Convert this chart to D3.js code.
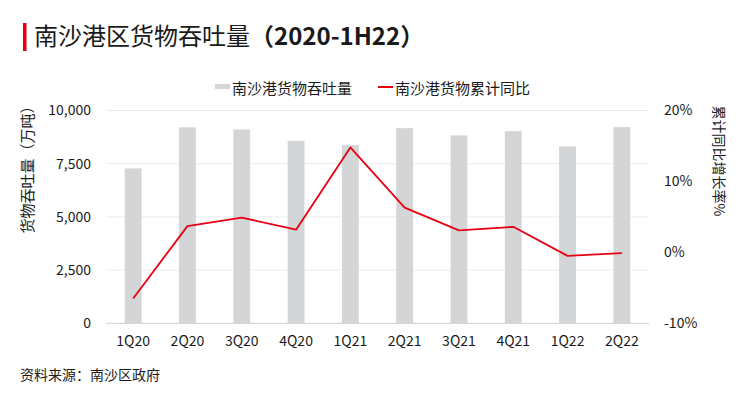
<!DOCTYPE html>
<html><head><meta charset="utf-8">
<script src="https://cdn.jsdelivr.net/npm/d3@7"></script>
<style>
body{margin:0;background:#fff;}
svg{display:block;font-family:"Noto Sans CJK SC","Noto Sans",sans-serif;}
</style></head>
<body><svg id="c" width="744" height="396"></svg>
<script>
const categories = ["1Q20","2Q20","3Q20","4Q20","1Q21","2Q21","3Q21","4Q21","1Q22","2Q22"];
const throughput = [7280, 9210, 9110, 8570, 8370, 9170, 8830, 9030, 8310, 9220];
const yoy = [-6.5, 3.7, 4.9, 3.2, 14.8, 6.3, 3.1, 3.6, -0.5, -0.1];
const leftTicks = [0, 2500, 5000, 7500, 10000];
const rightTicks = [-10, 0, 10, 20];

const svg = d3.select("#c");
const L = 106, R = 649, T = 110.5, B = 323.3;

const x = d3.scaleBand().domain(categories).range([L, R]).paddingInner(0.69).paddingOuter(0.345);
const yL = d3.scaleLinear().domain([0, 10000]).range([B, T]);
const yR = d3.scaleLinear().domain([-10, 20]).range([B, T]);

// title
svg.append("rect").attr("x", 23).attr("y", 23).attr("width", 3.5).attr("height", 28).attr("fill", "#e60012");
const title = svg.append("text").attr("x", 34).attr("y", 45).attr("font-size", 24).attr("fill", "#1a1a1a");
title.append("tspan").text("南沙港区货物吞吐量");
title.append("tspan").attr("font-weight", "bold").text("（2020-1H22）");

// gridlines
svg.append("g").selectAll("line").data(leftTicks.filter(d => d > 0)).join("line")
  .attr("x1", L).attr("x2", R).attr("y1", d => yL(d)).attr("y2", d => yL(d))
  .attr("stroke", "#ececec").attr("stroke-width", 1);

// bars
svg.append("g").selectAll("rect").data(categories).join("rect")
  .attr("x", d => x(d)).attr("width", x.bandwidth())
  .attr("y", (d, i) => yL(throughput[i])).attr("height", (d, i) => B - yL(throughput[i]))
  .attr("fill", "#d4d5d7");

// baseline
svg.append("line").attr("x1", L).attr("x2", R).attr("y1", B).attr("y2", B).attr("stroke", "#cfcfcf").attr("stroke-width", 1);

// line
const line = d3.line().x((d, i) => x(categories[i]) + x.bandwidth() / 2).y(d => yR(d));
svg.append("path").datum(yoy).attr("d", line).attr("fill", "none").attr("stroke", "#e60012").attr("stroke-width", 1.8).attr("stroke-linejoin", "round");

// left axis
const axL = d3.axisLeft(yL).tickValues(leftTicks).tickFormat(d3.format(",")).tickSize(0).tickPadding(0);
const gL = svg.append("g").attr("transform", "translate(91,0)").call(axL);
gL.select(".domain").remove();
gL.selectAll("text").attr("font-size", 14).attr("fill", "#1a1a1a").attr("font-family", "Noto Sans CJK SC");

// right axis
const axR = d3.axisRight(yR).tickValues(rightTicks).tickFormat(d => d + "%").tickSize(0).tickPadding(0);
const gR = svg.append("g").attr("transform", "translate(664,0)").call(axR);
gR.select(".domain").remove();
gR.selectAll("text").attr("font-size", 14).attr("fill", "#1a1a1a").attr("font-family", "Noto Sans CJK SC");

// x axis
const axX = d3.axisBottom(x).tickSize(0).tickPadding(0);
const gX = svg.append("g").attr("transform", "translate(0,336)").call(axX);
gX.select(".domain").remove();
gX.selectAll("text").attr("font-size", 14).attr("fill", "#1a1a1a").attr("font-family", "Noto Sans CJK SC");

// axis titles
svg.append("text").attr("transform", "translate(26,166) rotate(-90)").attr("text-anchor", "middle")
  .attr("dominant-baseline", "central").attr("font-size", 15).attr("fill", "#1a1a1a").text("货物吞吐量（万吨）");
svg.append("text").attr("transform", "translate(719.5,161) rotate(90)").attr("text-anchor", "middle")
  .attr("dominant-baseline", "central").attr("font-size", 14).attr("fill", "#1a1a1a").text("累计同比增长率%");

// legend
svg.append("rect").attr("x", 215).attr("y", 84).attr("width", 15).attr("height", 5).attr("fill", "#d4d5d7");
svg.append("text").attr("x", 232).attr("y", 87).attr("dominant-baseline", "central").attr("font-size", 15).attr("fill", "#1a1a1a").text("南沙港货物吞吐量");
svg.append("line").attr("x1", 378).attr("x2", 393).attr("y1", 87).attr("y2", 87).attr("stroke", "#e60012").attr("stroke-width", 2);
svg.append("text").attr("x", 395).attr("y", 87).attr("dominant-baseline", "central").attr("font-size", 15).attr("fill", "#1a1a1a").text("南沙港货物累计同比");

// source
svg.append("text").attr("x", 20).attr("y", 374).attr("dominant-baseline", "central").attr("font-size", 14).attr("fill", "#1a1a1a").text("资料来源：南沙区政府");
</script></body></html>
